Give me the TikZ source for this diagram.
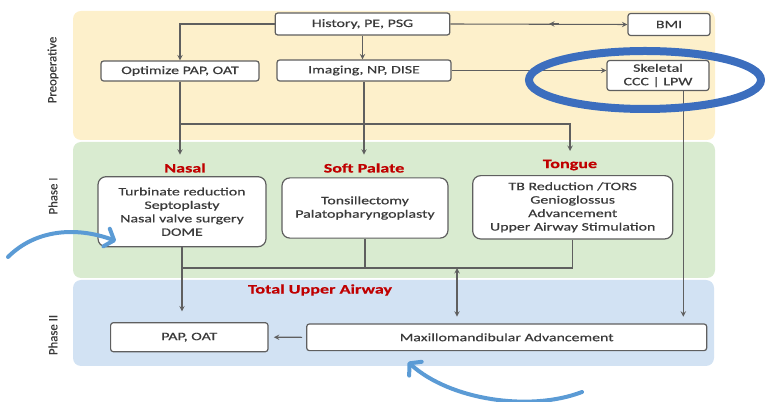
\documentclass[tikz,border=0pt]{standalone}
\usepackage{fontspec}
\setmainfont{Carlito}[FakeStretch=1.4, FakeBold=0.5]
\newfontfamily\sidefont{Carlito}[FakeBold=0.5]
\usetikzlibrary{arrows.meta}
\definecolor{prepcol}{HTML}{FDF0CB}
\definecolor{phaseonecol}{HTML}{D9EBD0}
\definecolor{phasetwocol}{HTML}{D2E2F3}
\definecolor{linecol}{HTML}{5F5F5F}
\definecolor{textcol}{HTML}{3A3A3A}
\definecolor{titlecol}{HTML}{C00000}
\definecolor{ringcol}{HTML}{3C6EBE}
\definecolor{swooshcol}{HTML}{5B9BD5}
\tikzset{>=stealth}
\tikzset{
  box/.style={draw=linecol, line width=0.9pt, fill=white, rounded corners=2pt, inner sep=0pt,
    align=center, text=textcol, font=\fontsize{8.5}{10.1}\selectfont},
  bigbox/.style={box, rounded corners=6pt},
  title/.style={text=titlecol, font=\fontsize{9.7}{11}\selectfont\bfseries},
  side/.style={rotate=90, text=textcol, font=\sidefont\fontsize{9.6}{11}\selectfont},
  panel/.style={rounded corners=6pt},
  link/.style={draw=linecol, line width=0.8pt},
  swoosh/.style={draw=swooshcol, line width=3pt, line cap=round,
    -{Straight Barb[length=6pt,width=14pt,round]}}
}

\begin{document}
\begin{tikzpicture}[x=0.75pt, y=-0.75pt]
    \useasboundingbox (0,0) rectangle (765,402);
    % stages
    \fill[prepcol, panel] (73,11) rectangle (715,140);
    \fill[phaseonecol, panel] (73,142) rectangle (715,278);
    \fill[phasetwocol, panel] (73,280) rectangle (714,366);
    \node[side] (lprep) at (53,70) {Preoperative};
    \node[side] (lone) at (53,196) {Phase I};
    \node[side] (ltwo) at (53,335) {Phase II};
    % preoperative
    \node[box, minimum width=131pt, minimum height=16.5pt] (hist) at (362.5,24) {History, PE, PSG};
    \node[box, minimum width=61.5pt, minimum height=16.5pt] (bmi) at (669,24.5) {BMI};
    \node[box, minimum width=118.5pt, minimum height=15pt] (opt) at (180,71) {Optimize PAP, OAT};
    \node[box, minimum width=130.5pt, minimum height=15.75pt] (img) at (364,70.5) {Imaging, NP, DISE};
    \node[box, minimum width=76.5pt, minimum height=22.5pt] (skel) at (658,75.5) {Skeletal\\CCC | LPW};
    % phase I
    \node[title] (tnasal) at (185,168) {Nasal};
    \node[title] (tsoft) at (364,168) {Soft Palate};
    \node[title] (ttong) at (570,165) {Tongue};
    \node[bigbox, minimum width=126pt, minimum height=52.5pt] (nasal) at (182,211.7)
        {Turbinate reduction\\Septoplasty\\Nasal valve surgery\\DOME};
    \node[bigbox, minimum width=124.5pt, minimum height=45.2pt] (soft) at (365,208)
        {Tonsillectomy\\Palatopharyngoplasty};
    \node[bigbox, minimum width=150pt, minimum height=47.5pt] (tong) at (572.7,207.3)
        {TB Reduction /TORS\\Genioglossus\\Advancement\\Upper Airway Stimulation};
    % phase II
    \node[title] (ttotal) at (320,290) {Total Upper Airway};
    \node[box, minimum width=118pt, minimum height=21.75pt] (pap) at (189.3,337.2) {PAP, OAT};
    \node[box, minimum width=300pt, minimum height=20pt] (mma) at (506.7,337.3) {Maxillomandibular Advancement};
    % connectors
    \coordinate (split) at (0,124);
    \coordinate (join) at (0,268);
    \coordinate (back) at (549,24);
    \coordinate (mid) at (457,268);
    \draw[link, ->] (hist.west) -| (opt.north);
    \draw[link, ->] (hist.south) -- (hist.south |- img.north);
    \draw[link, ->] (hist.east) -- (bmi.west);
    \draw[link, <-] (back) -- ++(10,0);
    \draw[link, ->] (img.east) -- (img.east -| skel.west);
    \draw[link, ->, shorten >=3pt] (opt.south) -- (opt.south |- tnasal.north);
    \draw[link, ->, shorten >=3pt] (img.south) -- (img.south |- tsoft.north);
    \draw[link, ->, shorten >=3pt] (opt.south |- split) -| (ttong.north);
    \draw[link, ->, shorten >=5pt] ([xshift=19pt]skel.south) -- ([xshift=19pt]skel.south |- mma.north);
    \draw[link] (soft.south) -- (soft.south |- join);
    \draw[link] (tong.south) -- (tong.south |- join) -- (nasal.south |- join);
    \draw[link, ->, shorten >=8pt] (nasal.south) -- (nasal.south |- pap.north);
    \draw[link, <->, shorten >=5pt] (mid) -- (mid |- mma.north);
    \draw[link, ->, shorten <=3pt, shorten >=4pt] (mma.west) -- (pap.east);
    % marks
    \draw[ringcol, line width=6pt] (645,80) ellipse [x radius=87pt, y radius=21.75pt];
    \draw[swoosh] (8,257) .. controls (35,230) and (75,226) .. (116,241);
    \draw[swoosh] (582,392) .. controls (530,412) and (450,400) .. (408,362);
\end{tikzpicture}
\end{document}
